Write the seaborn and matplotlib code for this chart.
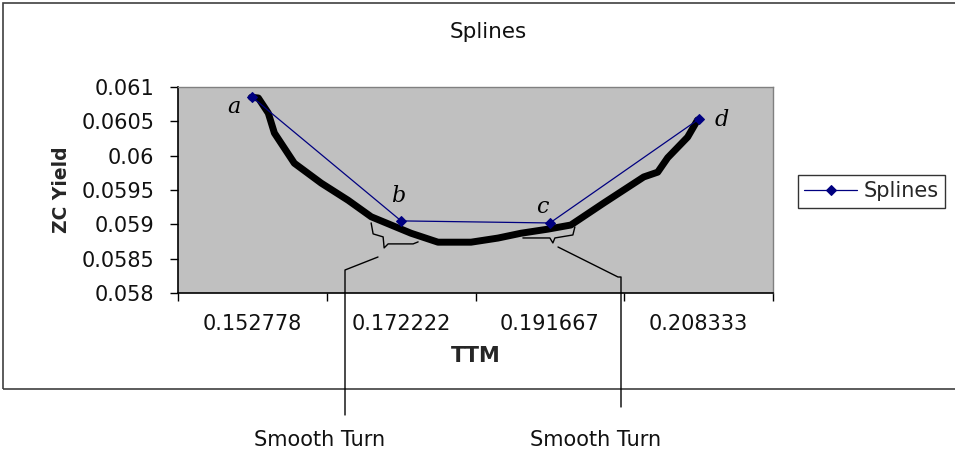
import numpy as np
import pandas as pd
import matplotlib
matplotlib.use("Agg")
import matplotlib.pyplot as plt
from matplotlib.lines import Line2D
from matplotlib.patches import Rectangle
from matplotlib.ticker import FixedLocator, FixedFormatter
import seaborn as sns

# data
ttm_labels = ["0.152778", "0.172222", "0.191667", "0.208333"]
zc_yield = [0.06085, 0.05905, 0.05902, 0.06053]
point_names = ["a", "b", "c", "d"]

# hand drawn smooth curve (x in category positions)
curve_x = [-0.007, 0.04, 0.107, 0.148, 0.282, 0.463, 0.644, 0.799, 0.933, 1.067,
           1.248, 1.470, 1.651, 1.805, 1.987, 2.141, 2.362, 2.631, 2.725, 2.792,
           2.926, 2.993]
curve_y = [0.06085, 0.06084, 0.06062, 0.06033, 0.05989, 0.05960, 0.05935, 0.05911,
           0.05899, 0.05887, 0.05874, 0.05874, 0.05880, 0.05887, 0.05893, 0.05899,
           0.05931, 0.05969, 0.05976, 0.05997, 0.06027, 0.06052]

yticks = [0.058, 0.0585, 0.059, 0.0595, 0.06, 0.0605, 0.061]

W, H = 955, 450
sns.set_style("white")
plt.rcParams["font.family"] = ["DejaVu Sans"]
FS = 15

fig = plt.figure(figsize=(W / 100, H / 100), dpi=100)
fig.patch.set_facecolor("white")

def fx(px):
    return px / W

def fy(py):
    return 1 - py / H

# outer chart border
fig.add_artist(Rectangle((fx(3), fy(389)), 1.0, fy(3) - fy(389), transform=fig.transFigure,
                         fill=False, edgecolor="#404040", linewidth=1.2))

ax = fig.add_axes([fx(178), fy(293), fx(773) - fx(178), fy(87) - fy(293)])
ax.set_facecolor("#C0C0C0")

df = pd.DataFrame({"pos": np.arange(len(ttm_labels)), "ZC Yield": zc_yield})
curve = pd.DataFrame({"pos": curve_x, "y": curve_y})

sns.lineplot(data=curve, x="pos", y="y", sort=False, color="black", linewidth=5,
             solid_capstyle="round", ax=ax, legend=False, zorder=2)
sns.lineplot(data=df, x="pos", y="ZC Yield", color="#000080", linewidth=0.9,
             marker="D", markersize=5, markeredgecolor="#000080", ax=ax,
             label="Splines", zorder=3)

ax.set_xlim(-0.5, 3.5)
ax.set_ylim(0.058, 0.061)
ax.set_yticks(yticks)
ax.set_yticklabels(["{:g}".format(v) for v in yticks])
ax.xaxis.set_major_locator(FixedLocator([-0.5, 0.5, 1.5, 2.5, 3.5]))
ax.xaxis.set_major_formatter(FixedFormatter([""] * 5))
ax.xaxis.set_minor_locator(FixedLocator(list(range(len(ttm_labels)))))
ax.xaxis.set_minor_formatter(FixedFormatter(ttm_labels))
ax.tick_params(axis="x", which="major", bottom=True, direction="out", length=5.5,
               width=1, color="black")
ax.tick_params(axis="x", which="minor", bottom=True, length=0, pad=15, labelsize=FS,
               labelcolor="#111111")
ax.tick_params(axis="y", left=True, direction="out", length=5.5, width=1, color="black",
               labelsize=FS, pad=11.5, labelcolor="#111111")

for s in ["left", "bottom"]:
    ax.spines[s].set_color("black")
    ax.spines[s].set_linewidth(1.2)
for s in ["top", "right"]:
    ax.spines[s].set_color("#808080")
    ax.spines[s].set_linewidth(1)

ax.set_xlabel("TTM", fontsize=FS, fontweight="bold", labelpad=9)
ax.set_ylabel("ZC Yield", fontsize=FS - 1.5, fontweight="bold")
ax.yaxis.set_label_coords(-0.18, 0.5)

fig.text(fx(488), fy(32), "Splines", fontsize=FS + 0.5, ha="center", va="center",
         color="#111111")

# handwritten letters next to the points
letter_offsets = [(-19, -10), (-3, 25), (-8, 16), (23, -1)]
for i, (name, off) in enumerate(zip(point_names, letter_offsets)):
    ax.annotate(name, (i, zc_yield[i]), xytext=off, textcoords="offset pixels",
                fontsize=16, family="DejaVu Serif", style="italic", ha="center",
                va="center", color="black")

# brackets under b and c (pixel offsets from each point)
fig.canvas.draw()
brackets = {
    1: [(-30, 2), (-28, 13), (-18, 16), (-17, 27), (-13, 23), (12, 23), (17, 21)],
    2: [(-27, 15), (0, 15), (3, 20), (5, 15), (23, 12), (25, 4)],
}
for i, shape in brackets.items():
    bx, by = ax.transData.transform((i, zc_yield[i]))
    pts = [((bx + dx) / W, (by - dy) / H) for dx, dy in shape]
    fig.add_artist(Line2D([p[0] for p in pts], [p[1] for p in pts],
                          transform=fig.transFigure, color="black", linewidth=1))

# callout lines to labels
for xs, ys in [([378, 345, 345], [257, 270, 415]),
               ([558, 618, 621, 621], [247, 277, 277, 407])]:
    fig.add_artist(Line2D([fx(v) for v in xs], [fy(v) for v in ys],
                          transform=fig.transFigure, color="black", linewidth=1))
fig.text(fx(320), fy(440), "Smooth Turn", fontsize=FS, ha="center", va="center",
         color="#111111")
fig.text(fx(596), fy(440), "Smooth Turn", fontsize=FS, ha="center", va="center",
         color="#111111")

leg = ax.legend(loc="upper left", bbox_to_anchor=(fx(798), fy(175)),
                bbox_transform=fig.transFigure, borderaxespad=0, frameon=True,
                fancybox=False, edgecolor="black", fontsize=FS, handlelength=2.55,
                borderpad=0.3, handletextpad=0.3)
leg.get_frame().set_linewidth(1)

fig.savefig("out.png", dpi=100, facecolor="white")
